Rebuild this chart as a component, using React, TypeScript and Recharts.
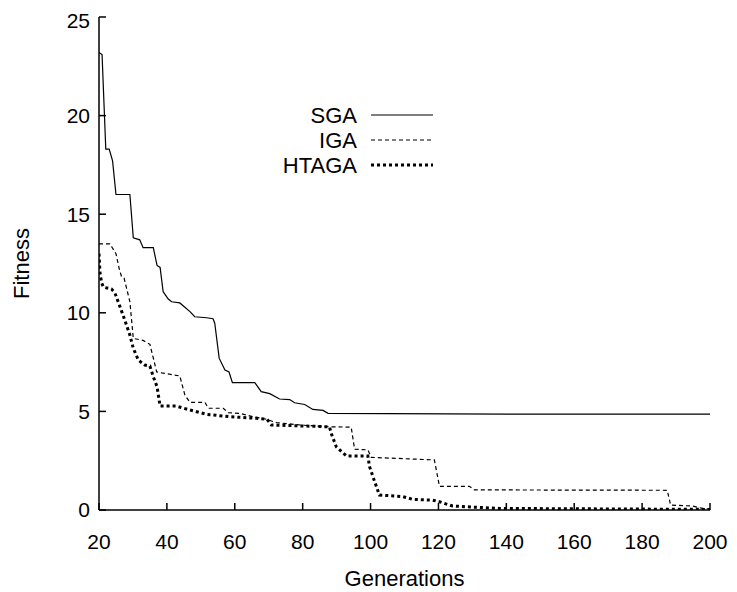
import React from "react";
import { LineChart, Line, XAxis, YAxis } from "recharts";

const xTicks = [20, 40, 60, 80, 100, 120, 140, 160, 180, 200];
const yTicks = [0, 5, 10, 15, 20, 25];

const sgaGen = [20, 20.9, 22, 23, 24, 25, 29.1, 30.1, 32, 33, 36, 37.1, 38, 38.9, 40.4, 41.4, 43.8, 46.8, 48.2, 51.7, 53.6, 54.1, 55.4, 57.1, 58.3, 59.3, 65.9, 67.8, 70.3, 73.2, 76.2, 77.6, 80.6, 83, 86, 87.5, 140, 200];
const sgaFit = [23.2, 23.1, 18.3, 18.3, 17.7, 16.0, 16.0, 13.8, 13.7, 13.3, 13.3, 12.4, 12.3, 11.07, 10.7, 10.56, 10.5, 10.06, 9.8, 9.75, 9.7, 9.47, 7.7, 7.1, 7.0, 6.46, 6.46, 6.0, 5.9, 5.63, 5.6, 5.44, 5.35, 5.1, 5.05, 4.9, 4.86, 4.86];

const igaGen = [20, 23.2, 25, 26, 26.7, 27.4, 29.1, 30.1, 33, 35, 37, 38.5, 43.8, 45.3, 46.8, 51.2, 52.2, 56.6, 58.1, 61.5, 65.4, 69.3, 72.3, 80.1, 87.9, 94.3, 95.3, 99.2, 100.2, 118.8, 120.3, 129.1, 130.6, 187.4, 188.4, 194.8, 197.8, 200];
const igaFit = [13.5, 13.5, 13.0, 12.2, 11.8, 11.75, 10.56, 8.7, 8.6, 8.4, 7.0, 6.95, 6.8, 5.83, 5.46, 5.46, 5.16, 5.16, 4.93, 4.9, 4.73, 4.6, 4.43, 4.3, 4.22, 4.2, 3.08, 3.05, 2.67, 2.54, 1.2, 1.2, 1.02, 1.0, 0.25, 0.2, 0.08, 0.05];

const htagaGen = [20, 20.3, 20.8, 21.3, 23.7, 24.7, 26.2, 27.6, 29.1, 30.1, 31.6, 33.5, 35, 36, 37.1, 38, 42.8, 46.8, 51.7, 58.5, 66.4, 69.5, 70.8, 87.9, 88.4, 89.9, 92.9, 99.2, 99.7, 100.7, 102.6, 109.5, 112.4, 118.3, 120.3, 123.2, 124.2, 137.9, 200];
const htagaFit = [13.0, 12.0, 11.5, 11.3, 11.2, 11.0, 10.3, 9.63, 8.87, 8.2, 7.6, 7.35, 7.3, 6.76, 6.25, 5.27, 5.27, 5.07, 4.85, 4.73, 4.65, 4.6, 4.31, 4.22, 3.89, 3.21, 2.74, 2.74, 2.2, 1.69, 0.76, 0.68, 0.54, 0.5, 0.42, 0.25, 0.2, 0.08, 0.03];

const seriesNames = ["SGA", "IGA", "HTAGA"];

const zip = (g: number[], v: number[]) => g.map((x, i) => ({ g: x, v: v[i] }));

const sgaData = zip(sgaGen, sgaFit);
const igaData = zip(igaGen, igaFit);
const htagaData = zip(htagaGen, htagaFit);

const FONT = "'Liberation Sans', Arial, Helvetica, sans-serif";

const styles = [
  { stroke: "#000", strokeWidth: 1.2, dash: undefined as string | undefined },
  { stroke: "#000", strokeWidth: 1.2, dash: "4 3" },
  { stroke: "#000", strokeWidth: 3, dash: "3 3" },
];

const LegendBox = () => (
  <svg width={300} height={90} style={{ position: "absolute", left: 192, top: 82, overflow: "visible" }}>
    {seriesNames.map((n, i) => (
      <g key={n}>
        <text x={157} y={25 + i * 25} textAnchor="end" dominantBaseline="central" fontFamily={FONT} fontSize={22} fill="#000">{n}</text>
        <line x1={171} x2={233} y1={25 + i * 25} y2={25 + i * 25} stroke={styles[i].stroke} strokeWidth={styles[i].strokeWidth} strokeDasharray={styles[i].dash} />
      </g>
    ))}
  </svg>
);

export default function App() {
  return (
    <div style={{ position: "relative", width: 729, height: 584 }}>
      <LineChart width={729} height={584} margin={{ top: 9, right: 27, left: 31, bottom: 6 }}>
        <XAxis xAxisId="b" dataKey="g" type="number" domain={[20, 200]} ticks={xTicks} allowDataOverflow
          axisLine={{ stroke: "#000", strokeWidth: 1.5 }} tickLine={{ stroke: "#000", strokeWidth: 1.5 }} tickSize={-7} tickMargin={31}
          tick={{ fill: "#000", fontSize: 21, fontFamily: FONT }} height={76}
          label={{ value: "Generations", position: "insideBottom", offset: 0, fill: "#000", fontSize: 22, fontFamily: FONT }} />
        <XAxis xAxisId="t" orientation="top" dataKey="g" type="number" domain={[20, 200]} ticks={xTicks} allowDataOverflow
          axisLine={{ stroke: "#000", strokeWidth: 1.5 }} tickLine={{ stroke: "#000", strokeWidth: 1.5 }} tickSize={-7} tick={false} height={0} />
        <YAxis yAxisId="l" type="number" domain={[0, 25]} ticks={yTicks} allowDataOverflow
          axisLine={{ stroke: "#000", strokeWidth: 1.5 }} tickLine={{ stroke: "#000", strokeWidth: 1.5 }} tickSize={-7} tickMargin={16}
          tick={{ fill: "#000", fontSize: 21, fontFamily: FONT }} width={60}
          label={{ value: "Fitness", angle: -90, position: "insideLeft", offset: -18, fill: "#000", fontSize: 22, fontFamily: FONT, style: { textAnchor: "middle" } }} />
        <YAxis yAxisId="r" orientation="right" type="number" domain={[0, 25]} ticks={yTicks} allowDataOverflow
          axisLine={{ stroke: "#000", strokeWidth: 1.5 }} tickLine={{ stroke: "#000", strokeWidth: 1.5 }} tickSize={-7} tick={false} width={0} />
        <Line xAxisId="b" yAxisId="l" data={sgaData} dataKey="v" type="linear" dot={false} isAnimationActive={false}
          stroke={styles[0].stroke} strokeWidth={styles[0].strokeWidth} name={seriesNames[0]} />
        <Line xAxisId="b" yAxisId="l" data={igaData} dataKey="v" type="linear" dot={false} isAnimationActive={false}
          stroke={styles[1].stroke} strokeWidth={styles[1].strokeWidth} strokeDasharray={styles[1].dash} name={seriesNames[1]} />
        <Line xAxisId="b" yAxisId="l" data={htagaData} dataKey="v" type="linear" dot={false} isAnimationActive={false}
          stroke={styles[2].stroke} strokeWidth={styles[2].strokeWidth} strokeDasharray={styles[2].dash} name={seriesNames[2]} />
      </LineChart>
      <LegendBox />
    </div>
  );
}
